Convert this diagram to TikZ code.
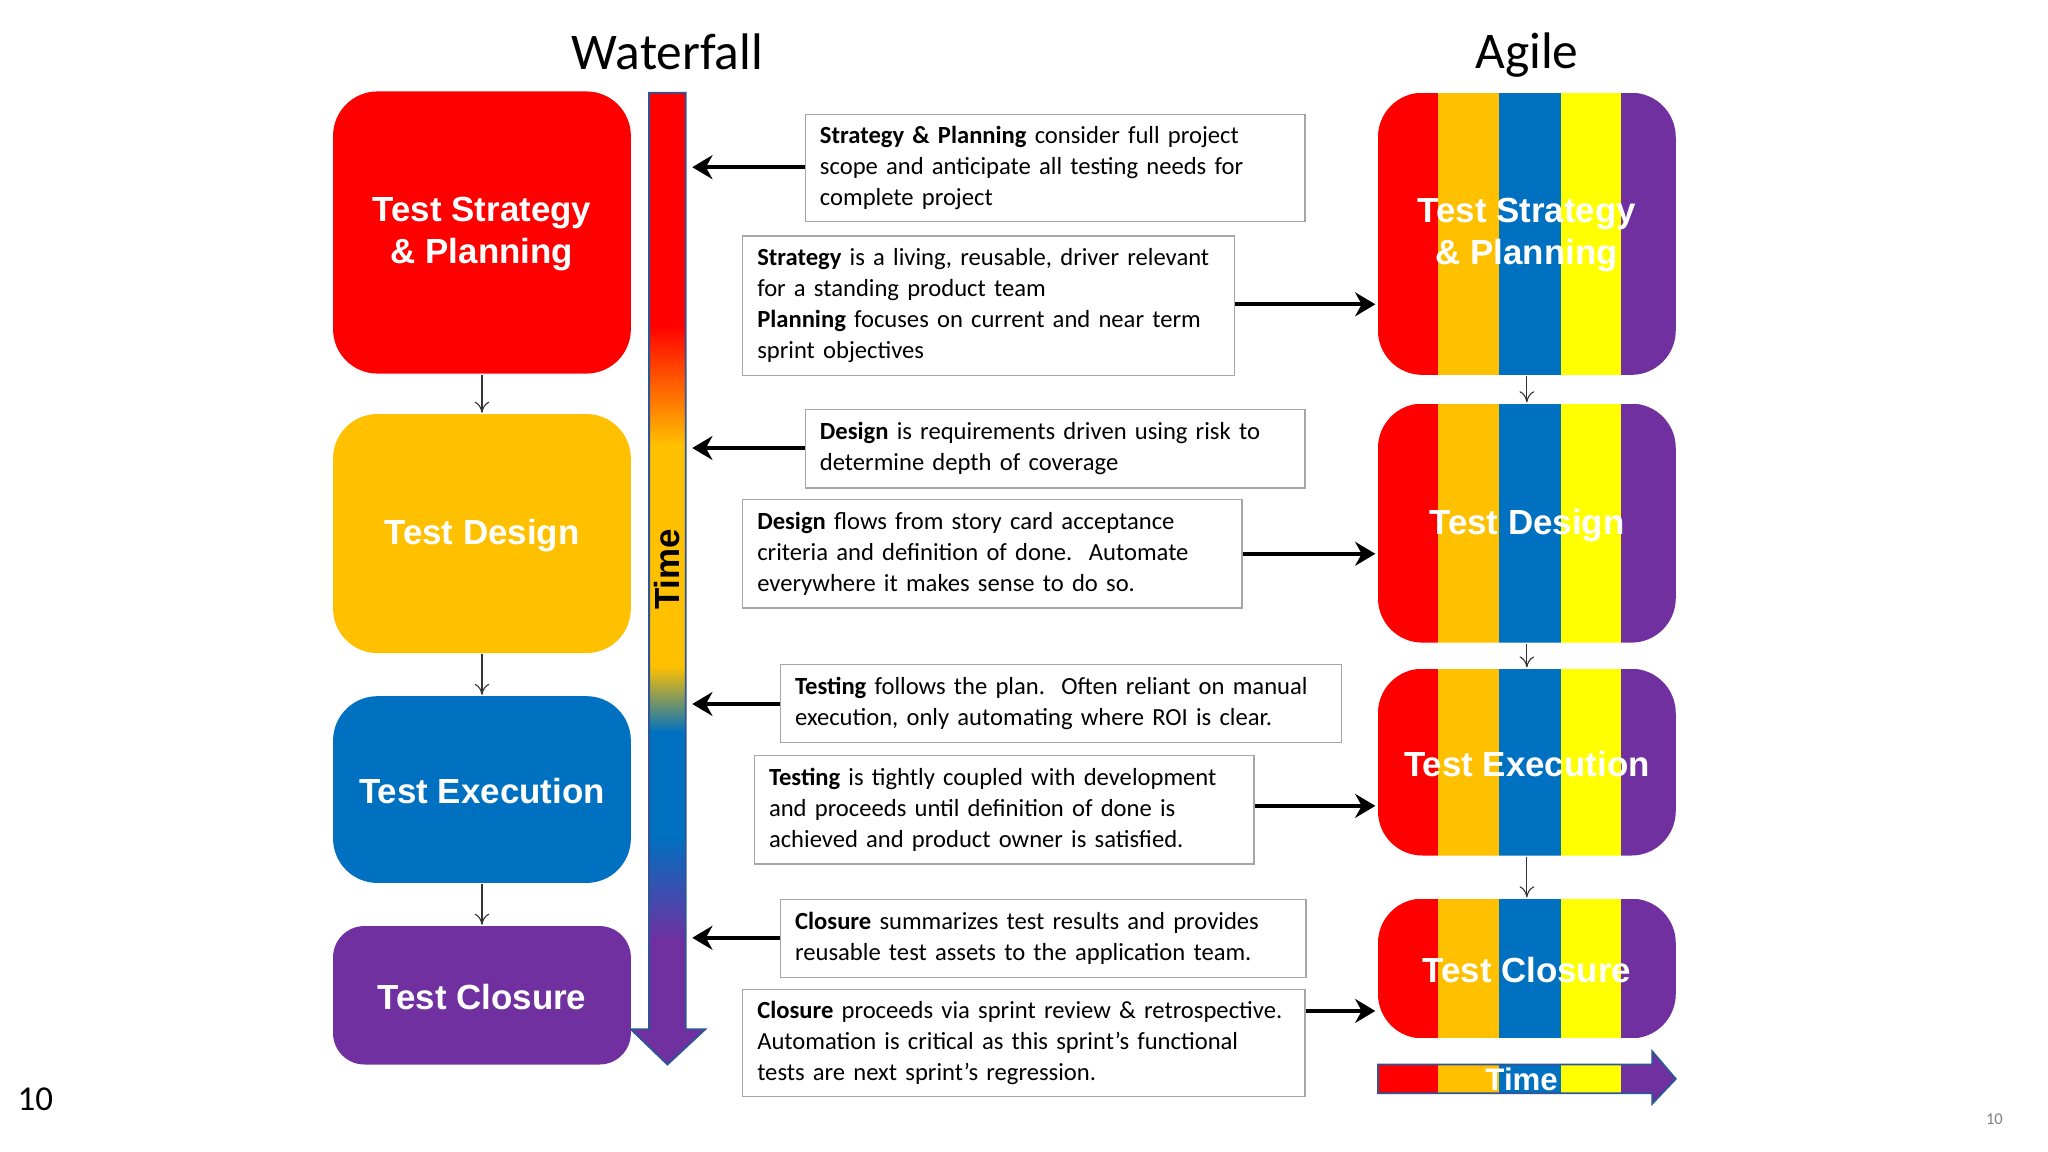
\documentclass[tikz,border=0pt]{standalone}
\usepackage{fontspec}
\setmainfont{Carlito}
\newfontfamily\arialf{Liberation Sans}
\usetikzlibrary{arrows.meta}
\definecolor{wred}{HTML}{FF0000}
\definecolor{worange}{HTML}{FFC000}
\definecolor{wblue}{HTML}{0070C0}
\definecolor{wyellow}{HTML}{FFFF00}
\definecolor{wpurple}{HTML}{7030A0}
\definecolor{woutline}{HTML}{2F5597}
\tikzset{
  phase/.style={font=\arialf\bfseries\fontsize{19}{23}\selectfont, text=white, align=center},
  note/.style={draw=gray!70, line width=0.8pt, font=\fontsize{13.4}{17}\selectfont, align=left, anchor=north west, inner xsep=0.28cm, inner ysep=5pt},
  next/.style={-{To[length=6pt,width=8pt]}, line width=0.6pt, draw=black!80},
  point/.style={-{Stealth[length=11pt,width=13pt]}, line width=2.2pt},
}
\newcommand{\stripes}[2]{% top, bottom
  \begin{scope}
    \clip[rounded corners=0.85cm] (1055,#1) rectangle (1283,#2);
    \fill[wred] (1055,#1) rectangle (1101,#2);
    \fill[worange] (1101,#1) rectangle (1148,#2);
    \fill[wblue] (1148,#1) rectangle (1195,#2);
    \fill[wyellow] (1195,#1) rectangle (1241,#2);
    \fill[wpurple] (1241,#1) rectangle (1283,#2);
  \end{scope}}
\begin{document}
\begin{tikzpicture}[x=0.025cm, y=-0.025cm]
\useasboundingbox[fill=white] (0,0) rectangle (1568,882);

\node (wtitle) at (511,40) {\fontsize{28}{34}\selectfont Waterfall};
\node (atitle) at (1169,42) {\fontsize{28}{34}\selectfont Agile};

% -------- waterfall boxes -----------
\fill[wred, rounded corners=0.85cm] (255,70) rectangle (483,286);
\fill[worange, rounded corners=0.85cm] (255,317) rectangle (483,500);
\fill[wblue, rounded corners=0.85cm] (255,533) rectangle (483,676);
\fill[wpurple, rounded corners=0.6cm] (255,709) rectangle (483,815);
\node[phase] (wplan) at (369,179) {Test Strategy\\\& Planning};
\node[phase] (wdes) at (369,410) {Test Design};
\node[phase] (wexe) at (369,606) {Test Execution};
\node[phase] (wclo) at (369,763) {Test Closure};
\coordinate (w1) at (369,287); \coordinate (w2) at (369,316);
\coordinate (w3) at (369,501); \coordinate (w4) at (369,532);
\coordinate (w5) at (369,677); \coordinate (w6) at (369,708);
\draw[next] (w1) -- (w2);
\draw[next] (w3) -- (w4);
\draw[next] (w5) -- (w6);

% -------- time bar -----------
\begin{scope}
  \clip (497,71) -- (525,71) -- (525,788) -- (540,788) -- (511,815) -- (483,788) -- (497,788) -- cycle;
  \fill[wred] (480,70) rectangle (545,250);
  \shade[top color=wred, bottom color=worange] (480,249) rectangle (545,341);
  \fill[worange] (480,340) rectangle (545,511);
  \shade[top color=worange, bottom color=wblue] (480,510) rectangle (545,561);
  \fill[wblue] (480,560) rectangle (545,641);
  \shade[top color=wblue, bottom color=wpurple] (480,640) rectangle (545,721);
  \fill[wpurple] (480,720) rectangle (545,816);
\end{scope}
\draw[woutline, line width=1pt] (497,71) -- (525,71) -- (525,788) -- (540,788) -- (511,815) -- (483,788) -- (497,788) -- cycle;
\node[rotate=90, font=\arialf\bfseries\fontsize{19}{22}\selectfont] (wtime) at (511,436) {Time};

% -------- agile boxes -----------
\stripes{71}{287}
\stripes{309}{492}
\stripes{512}{655}
\stripes{688}{795}
\node[phase] (aplan) at (1169,180) {Test Strategy\\\& Planning};
\node[phase] (ades) at (1169,402) {Test Design};
\node[phase] (aexe) at (1169,585) {Test Execution};
\node[phase] (aclo) at (1169,743) {Test Closure};
\coordinate (a1) at (1169,288); \coordinate (a2) at (1169,308);
\coordinate (a3) at (1169,493); \coordinate (a4) at (1169,511);
\coordinate (a5) at (1169,656); \coordinate (a6) at (1169,687);
\draw[next] (a1) -- (a2);
\draw[next] (a3) -- (a4);
\draw[next] (a5) -- (a6);

% agile time arrow
\begin{scope}
  \clip (1055,815) -- (1265,815) -- (1265,805) -- (1283,826) -- (1265,845) -- (1265,837) -- (1055,837) -- cycle;
  \fill[wred] (1055,800) rectangle (1101,850);
  \fill[worange] (1101,800) rectangle (1148,850);
  \fill[wblue] (1148,800) rectangle (1195,850);
  \fill[wyellow] (1195,800) rectangle (1241,850);
  \fill[wpurple] (1241,800) rectangle (1285,850);
\end{scope}
\draw[woutline, line width=1pt] (1055,815) -- (1265,815) -- (1265,805) -- (1283,826) -- (1265,845) -- (1265,837) -- (1055,837) -- cycle;
\node[font=\arialf\bfseries\fontsize{17}{20}\selectfont, text=white] (atime) at (1165,826) {Time};

% -------- notes -----------
\node[note, text width=9.0cm, minimum height=2.05cm] (n1) at (616,87)
  {\textbf{Strategy \& Planning} consider full project\\scope and anticipate all testing needs for\\complete project};
\node[note, text width=8.85cm, minimum height=2.67cm] (n2) at (568,180)
  {\textbf{Strategy} is a living, reusable, driver relevant\\for a standing product team\\\textbf{Planning} focuses on current and near term\\sprint objectives};
\node[note, text width=9.0cm, minimum height=1.5cm] (n3) at (616,313)
  {\textbf{Design} is requirements driven using risk to\\determine depth of coverage};
\node[note, text width=9.0cm, minimum height=2.07cm] (n4) at (568,382)
  {\textbf{Design} flows from story card acceptance\\criteria and definition of done.\ \ Automate\\everywhere it makes sense to do so.};
\node[note, text width=10.18cm, minimum height=1.5cm] (n5) at (597,508)
  {\textbf{Testing} follows the plan.\ \ Often reliant on manual\\execution, only automating where ROI is clear.};
\node[note, text width=9.0cm, minimum height=2.07cm] (n6) at (577,578)
  {\textbf{Testing} is tightly coupled with development\\and proceeds until definition of done is\\achieved and product owner is satisfied.};
\node[note, text width=9.5cm, minimum height=1.5cm] (n7) at (597,688)
  {\textbf{Closure} summarizes test results and provides\\reusable test assets to the application team.};
\node[note, text width=10.2cm, minimum height=2.05cm] (n8) at (568,757)
  {\textbf{Closure} proceeds via sprint review \& retrospective.\\Automation is critical as this sprint’s functional\\tests are next sprint’s regression.};

\coordinate (t1) at (530,128);
\coordinate (t3) at (530,343);
\coordinate (t5) at (530,539);
\coordinate (t7) at (530,718);
\coordinate (g2) at (1053,233);
\coordinate (g4) at (1053,424);
\coordinate (g6) at (1053,617);
\coordinate (g8) at (1053,774);
\draw[point] (n1.west|-t1) -- (t1);
\draw[point] (n3.west|-t3) -- (t3);
\draw[point] (n5.west|-t5) -- (t5);
\draw[point] (n7.west|-t7) -- (t7);
\draw[point] (n2.east|-g2) -- (g2);
\draw[point] (n4.east|-g4) -- (g4);
\draw[point] (n6.east|-g6) -- (g6);
\draw[point] (n8.east|-g8) -- (g8);

\node (pg) at (27,842) {\fontsize{19}{22}\selectfont 10};
\node[text=gray] (pgs) at (1527,857) {\fontsize{9}{11}\selectfont 10};
\end{tikzpicture}
\end{document}
